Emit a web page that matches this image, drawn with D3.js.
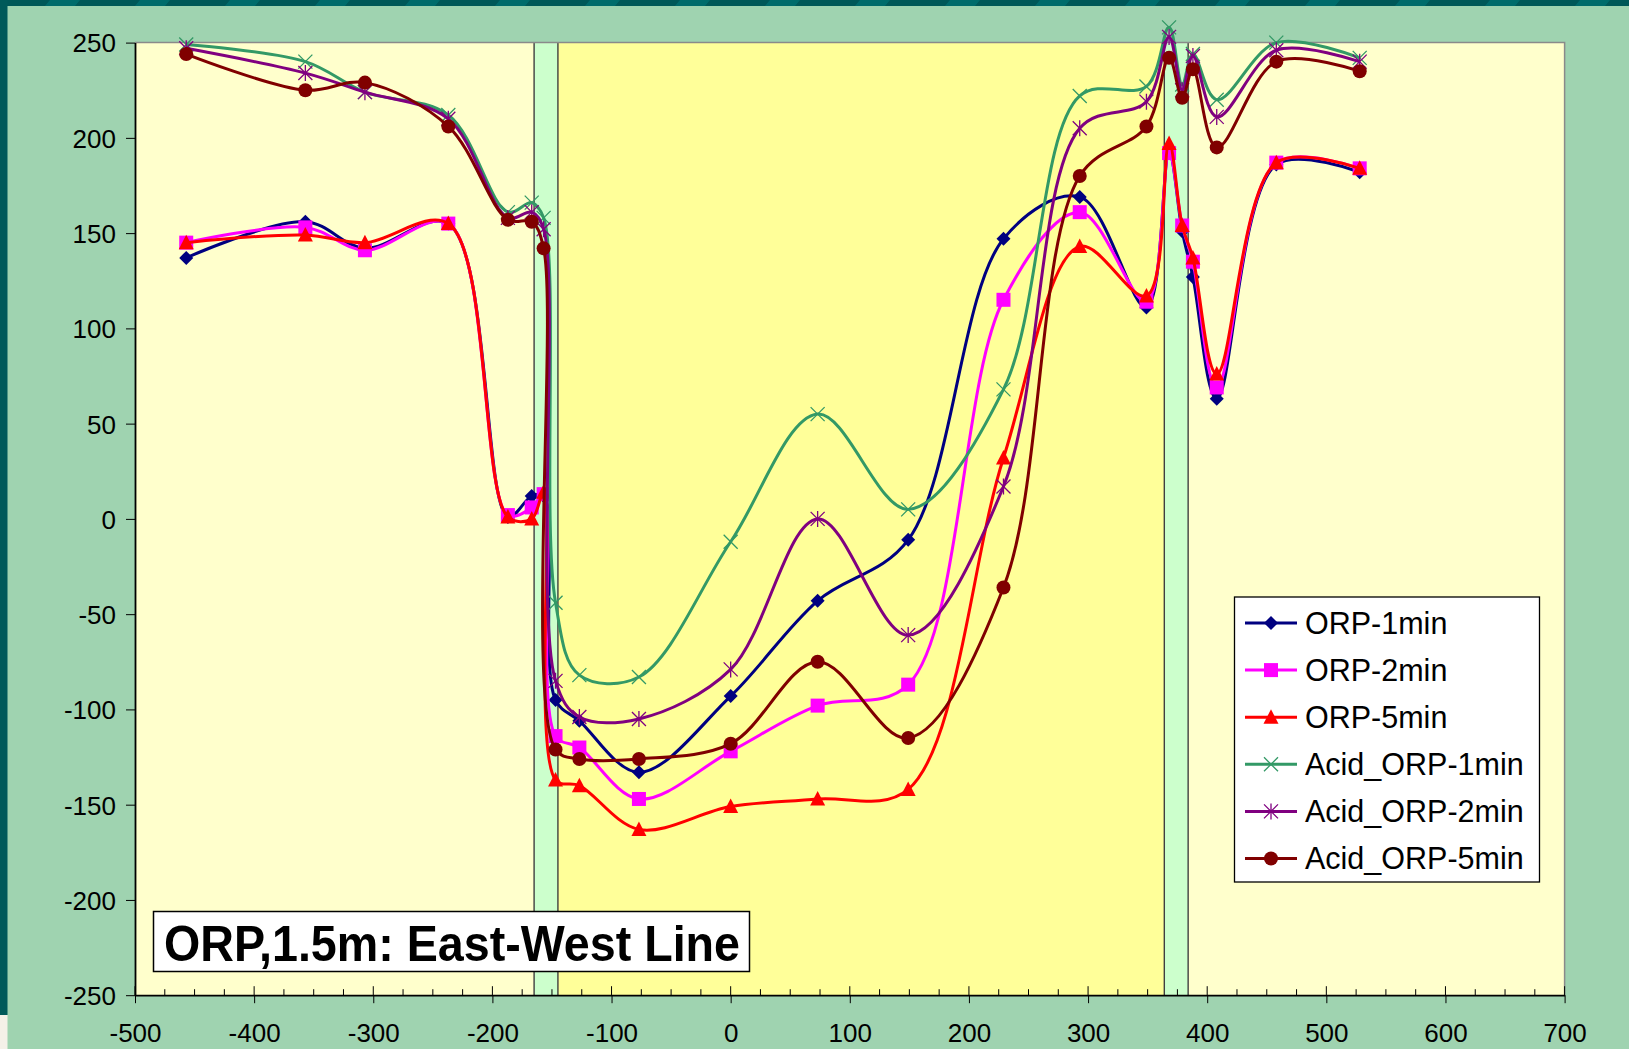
<!DOCTYPE html>
<html>
<head>
<meta charset="utf-8">
<script src="https://cdn.jsdelivr.net/npm/d3@7"></script>
<style>
  html, body { margin: 0; padding: 0; background: #9fd3b0; }
  svg { display: block; }
  text { font-family: "Liberation Sans", Arial, sans-serif; }
</style>
</head>
<body>
<svg id="chart" width="1629" height="1049"></svg>
<script>
// Station positions along the East-West line (m)
const distance = [-457, -357, -307, -237, -187, -167, -157, -147, -127, -77, 0, 73, 149, 229, 293, 349, 368, 379, 388, 408, 458, 528];

// ORP readings (mV) at each station
const orp1min = [137, 156, 142, 155, 1, 12, 12, -95, -106, -133, -93, -43, -11, 147, 169, 111, 192, 151, 127, 63, 186, 182];
const orp2min = [145, 153, 141, 155, 2, 6, 13, -114, -120, -147, -122, -98, -87, 115, 161, 114, 192, 154, 135, 69, 187, 184];
const orp5min = [145, 149, 145, 155, 1, 0, 14, -137, -140, -163, -151, -147, -142, 32, 143, 117, 197, 154, 137, 76, 187, 184];
const acidOrp1min = [249, 240, 224, 212, 161, 166, 158, -44, -82, -83, -12, 55, 5, 68, 222, 227, 258, 228, 244, 220, 250, 242];
const acidOrp2min = [247, 234, 224, 210, 158, 161, 152, -85, -104, -105, -79, 0, -61, 17, 205, 219, 253, 225, 243, 211, 246, 240];
const acidOrp5min = [244, 225, 229, 206, 157, 156, 142, -121, -126, -126, -118, -75, -115, -36, 180, 206, 242, 221, 236, 195, 240, 235];

const seriesNames = ["ORP-1min", "ORP-2min", "ORP-5min", "Acid_ORP-1min", "Acid_ORP-2min", "Acid_ORP-5min"];
const seriesValues = [orp1min, orp2min, orp5min, acidOrp1min, acidOrp2min, acidOrp5min];
const seriesColors = ["#000080", "#ff00ff", "#ff0000", "#339966", "#800080", "#800000"];
const seriesMarkers = ["diamond", "square", "triangle", "cross", "star", "circle"];

// Background zones along the line
const zoneEdges = [-500, -165, -145, 364, 384, 700];
const zoneFills = ["#ffffcc", "#ccffcc", "#ffff99", "#ccffcc", "#ffffcc"];

const xTicks = d3.range(-500, 701, 100);
const xMinorTicks = d3.range(-500, 701, 25);
const yTicks = d3.range(-250, 251, 50);

const chartTitle = "ORP,1.5m: East-West Line";

const svg = d3.select("#chart");
const W = 1629, H = 1049;

const x = d3.scaleLinear().domain([-500, 700]).range([135, 1564.6]);
const y = d3.scaleLinear().domain([-250, 250]).range([995.2, 42.6]);

// Plain hyphen-minus for negative tick labels
const tickText = d => String(d);

// Page background and dark frame strips
svg.append("rect").attr("width", W).attr("height", H).attr("fill", "#9fd3b0");
const defs = svg.append("defs");
const pat = defs.append("pattern").attr("id", "stripes").attr("patternUnits", "userSpaceOnUse")
  .attr("width", 90).attr("height", 8).attr("patternTransform", "skewX(-40)");
pat.append("rect").attr("width", 90).attr("height", 8).attr("fill", "#005858");
pat.append("rect").attr("x", 50).attr("width", 30).attr("height", 8).attr("fill", "#006b6b");
svg.append("rect").attr("x", 0).attr("y", 0).attr("width", W).attr("height", 6).attr("fill", "url(#stripes)");
svg.append("rect").attr("x", 0).attr("y", 0).attr("width", 7.5).attr("height", 1015).attr("fill", "#005a5a");
svg.append("rect").attr("x", 0).attr("y", 1015).attr("width", 7.5).attr("height", 34).attr("fill", "#f4f1e8");

// Plot zones
const zones = zoneFills.map((f, i) => ({ from: zoneEdges[i], to: zoneEdges[i + 1], fill: f }));
svg.append("g").selectAll("rect").data(zones).join("rect")
  .attr("x", d => x(d.from))
  .attr("y", y(250))
  .attr("width", d => x(d.to) - x(d.from))
  .attr("height", y(-250) - y(250))
  .attr("fill", d => d.fill);

// Zone boundary lines
svg.append("g").selectAll("line").data(zoneEdges.slice(1, -1)).join("line")
  .attr("x1", d => x(d)).attr("x2", d => x(d))
  .attr("y1", y(250)).attr("y2", y(-250))
  .attr("stroke", "#404040").attr("stroke-width", 1.4);

// Plot frame (top and right)
svg.append("path")
  .attr("d", `M${x(-500)},${y(250)}H${x(700)}V${y(-250)}`)
  .attr("fill", "none").attr("stroke", "#8a8a8a").attr("stroke-width", 1.5);

// Axes
const axisFont = "26px";
const yAxis = svg.append("g").attr("transform", `translate(${x(-500)},0)`)
  .call(d3.axisLeft(y).tickValues(yTicks).tickSize(9).tickSizeOuter(0).tickPadding(10).tickFormat(tickText));
yAxis.selectAll("text").style("font-size", axisFont).attr("fill", "#000").attr("dy", "0.36em");

const xAxis = svg.append("g").attr("transform", `translate(0,${y(-250)})`)
  .call(d3.axisBottom(x).tickValues(xTicks).tickSize(8).tickSizeOuter(0).tickPadding(20).tickFormat(tickText));
xAxis.selectAll("text").style("font-size", axisFont).attr("fill", "#000");

// Inner ticks (minor every 25, major every 100)
const xInner = svg.append("g").attr("transform", `translate(0,${y(-250)})`);
xInner.selectAll("line").data(xMinorTicks).join("line")
  .attr("x1", d => x(d)).attr("x2", d => x(d))
  .attr("y1", 0).attr("y2", d => (d % 100 === 0 ? -9 : -6))
  .attr("stroke", "#000").attr("stroke-width", 1);

[yAxis, xAxis].forEach(g => {
  g.select(".domain").attr("stroke", "#000").attr("stroke-width", 1.8);
  g.selectAll(".tick line").attr("stroke", "#000").attr("stroke-width", 1);
});

// Marker shapes
function drawMarker(g, type, color, cx, cy) {
  const s = 7;
  if (type === "diamond") {
    g.append("path").attr("d", `M${cx},${cy - s}L${cx + s},${cy}L${cx},${cy + s}L${cx - s},${cy}Z`).attr("fill", color);
  } else if (type === "square") {
    g.append("rect").attr("x", cx - s).attr("y", cy - s).attr("width", 2 * s).attr("height", 2 * s).attr("fill", color);
  } else if (type === "triangle") {
    g.append("path").attr("d", `M${cx},${cy - s - 1}L${cx + s + 0.5},${cy + s - 0.5}L${cx - s - 0.5},${cy + s - 0.5}Z`).attr("fill", color);
  } else if (type === "circle") {
    g.append("circle").attr("cx", cx).attr("cy", cy).attr("r", s).attr("fill", color);
  } else if (type === "cross") {
    g.append("path").attr("d", `M${cx - s},${cy - s}L${cx + s},${cy + s}M${cx - s},${cy + s}L${cx + s},${cy - s}`)
      .attr("stroke", color).attr("stroke-width", 1.3).attr("fill", "none");
  } else if (type === "star") {
    g.append("path").attr("d", `M${cx - s},${cy - s}L${cx + s},${cy + s}M${cx - s},${cy + s}L${cx + s},${cy - s}M${cx},${cy - s - 1}L${cx},${cy + s + 1}`)
      .attr("stroke", color).attr("stroke-width", 1.3).attr("fill", "none");
  }
}

// Series lines and markers
const line = d3.line().x(d => x(d[0])).y(d => y(d[1])).curve(d3.curveCatmullRom.alpha(0.5));
const seriesLayer = svg.append("g");
seriesValues.forEach((vals, i) => {
  const pts = distance.map((d, j) => [d, vals[j]]);
  const g = seriesLayer.append("g");
  g.append("path").datum(pts).attr("d", line)
    .attr("fill", "none").attr("stroke", seriesColors[i]).attr("stroke-width", 3)
    .attr("stroke-linejoin", "round");
  pts.forEach(p => drawMarker(g, seriesMarkers[i], seriesColors[i], x(p[0]), y(p[1])));
});

// Legend
const legend = svg.append("g");
legend.append("rect").attr("x", 1234.5).attr("y", 597).attr("width", 305).attr("height", 285)
  .attr("fill", "#fff").attr("stroke", "#000").attr("stroke-width", 1.3);
seriesNames.forEach((name, i) => {
  const cy = 623 + i * 47.1;
  legend.append("line").attr("x1", 1245).attr("x2", 1297).attr("y1", cy).attr("y2", cy)
    .attr("stroke", seriesColors[i]).attr("stroke-width", 3);
  drawMarker(legend, seriesMarkers[i], seriesColors[i], 1271, cy);
  legend.append("text").attr("x", 1305).attr("y", cy).attr("dy", "0.36em")
    .style("font-size", "30.5px").attr("fill", "#000").text(name);
});

// Title box
svg.append("rect").attr("x", 153.5).attr("y", 911.5).attr("width", 596).attr("height", 60)
  .attr("fill", "#fff").attr("stroke", "#000").attr("stroke-width", 1.5);
svg.append("text").attr("x", 164).attr("y", 961)
  .attr("textLength", 576).attr("lengthAdjust", "spacingAndGlyphs")
  .style("font-size", "50px").style("font-weight", "bold").attr("fill", "#000")
  .text(chartTitle);
</script>
</body>
</html>
